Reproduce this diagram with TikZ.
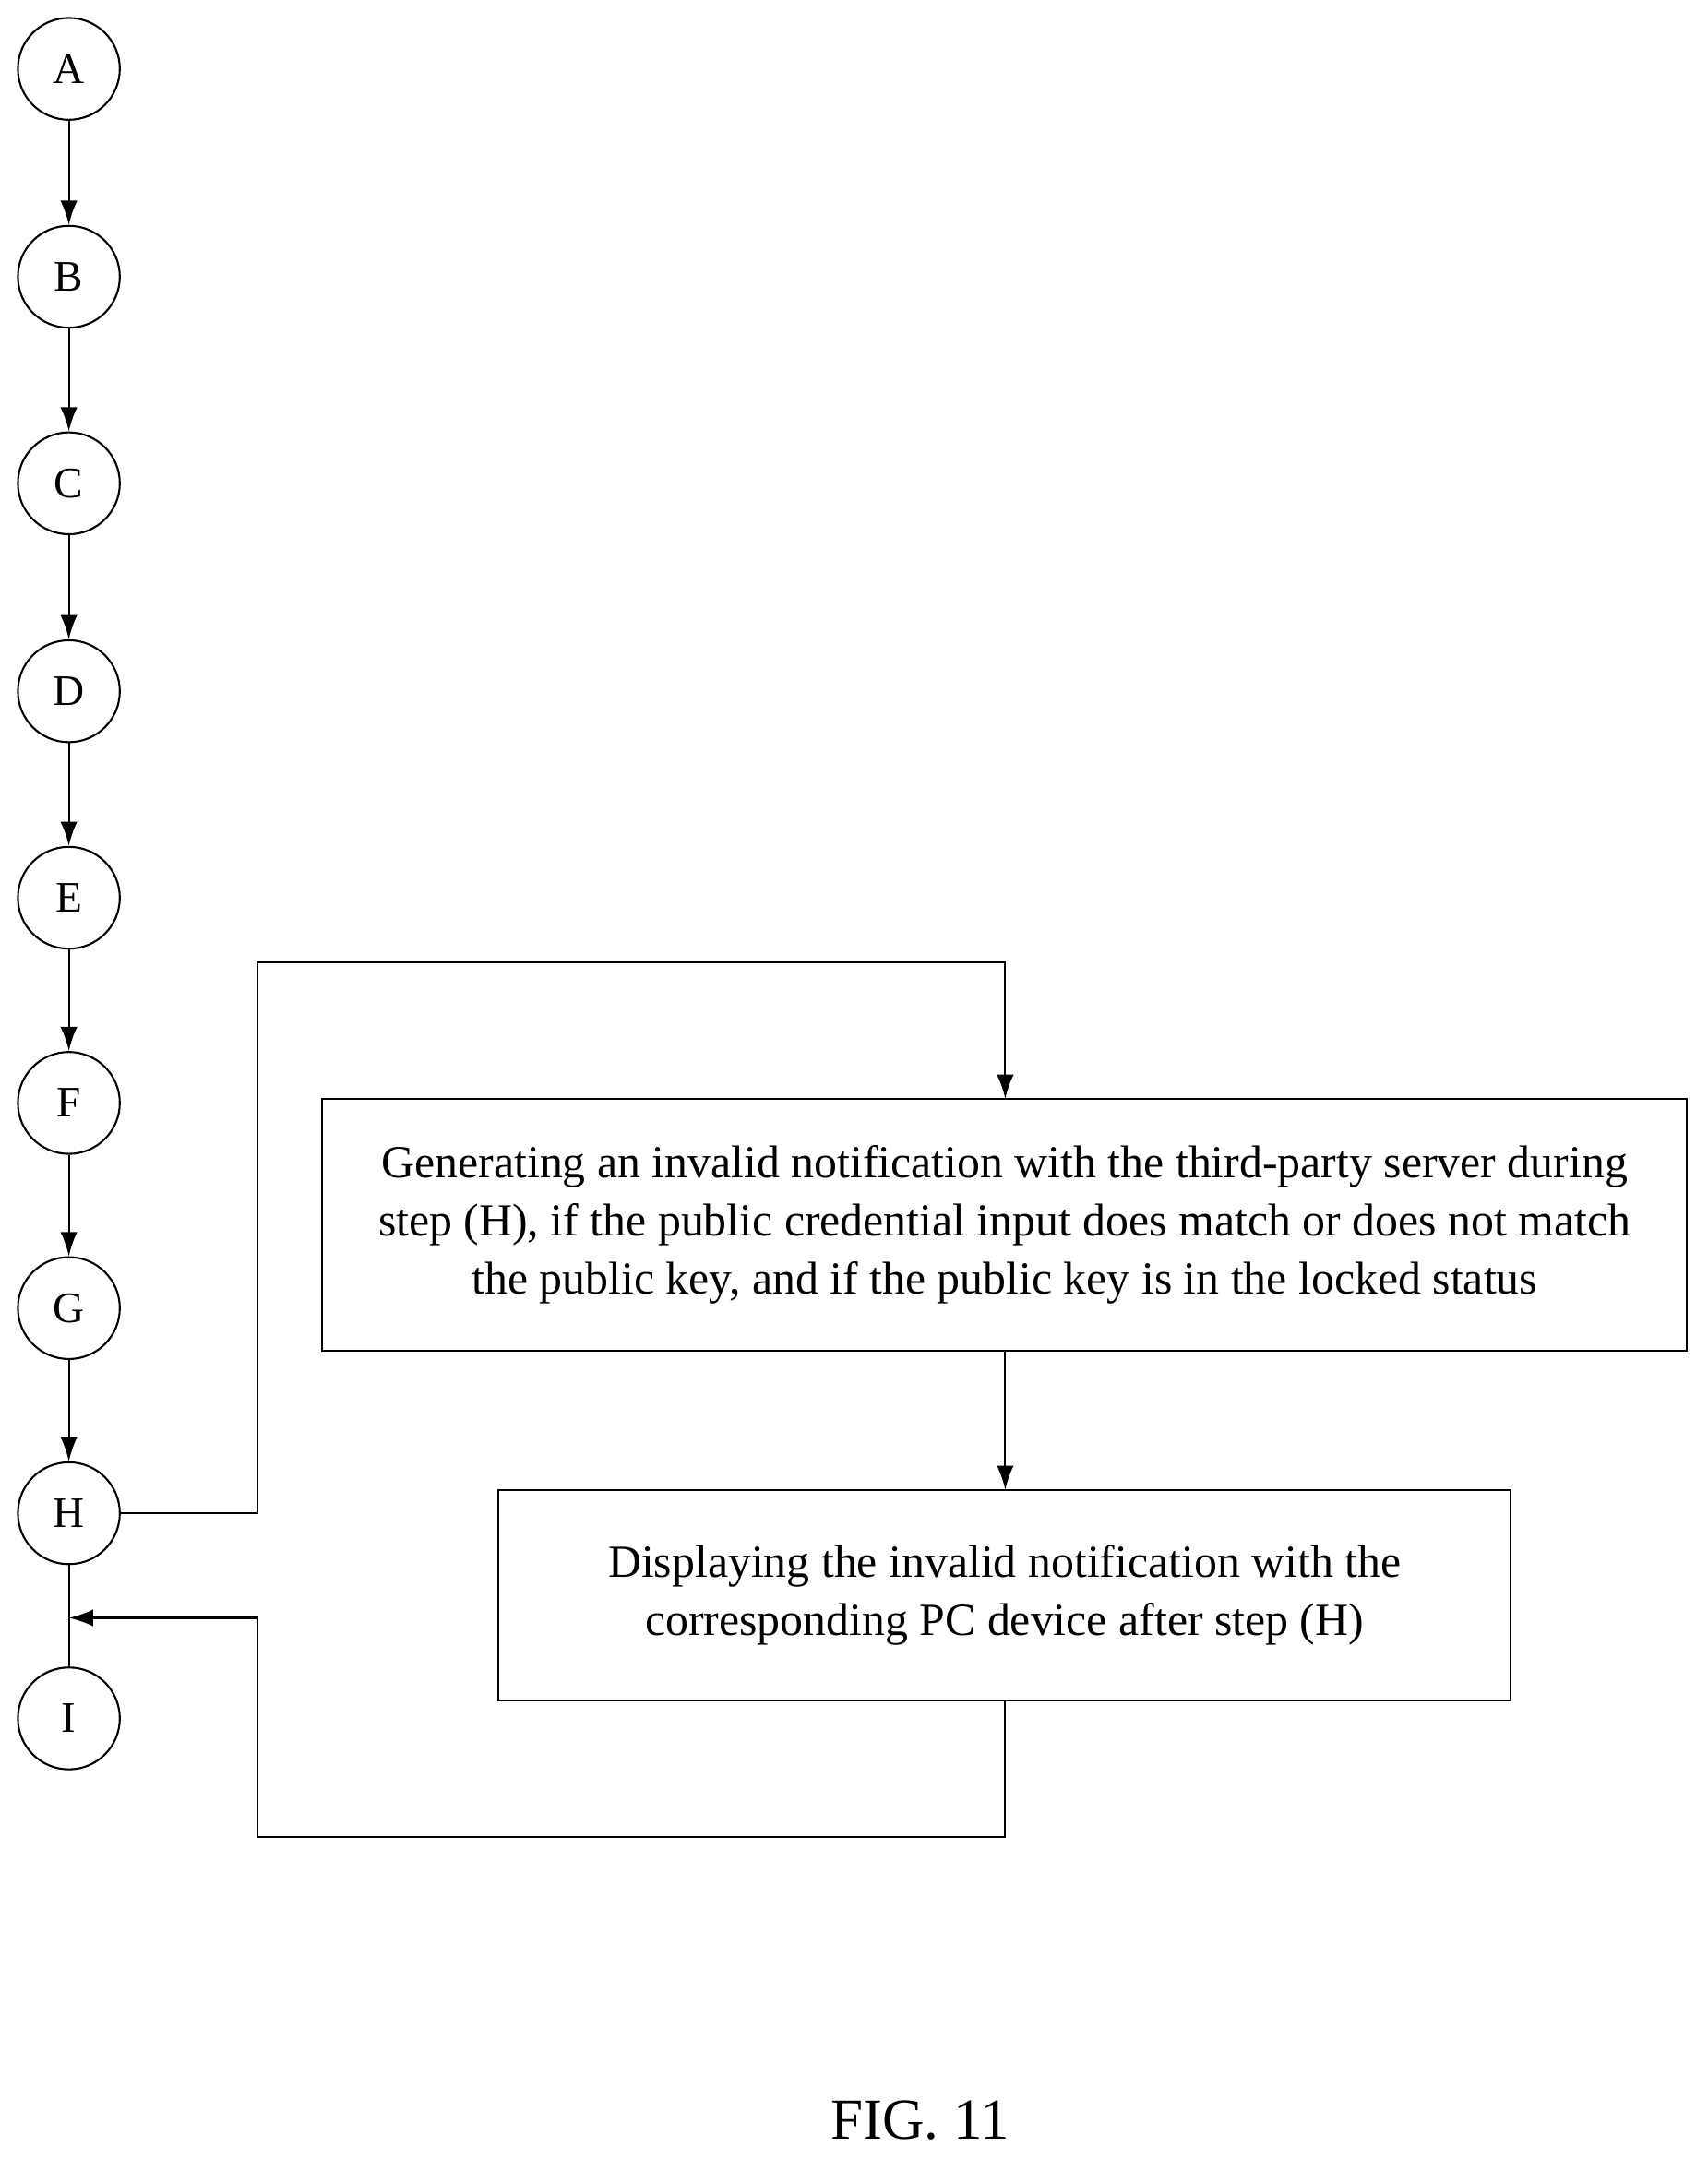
\documentclass[tikz,border=0pt]{standalone}
\usepackage{fontspec}
\setmainfont{Liberation Serif}
\usetikzlibrary{arrows.meta}
\begin{document}
\begin{tikzpicture}[x=0.02cm,y=-0.02cm,
  circ/.style={draw,circle,minimum size=1.48cm,inner sep=0pt,font=\fontsize{18}{20}\selectfont,line width=0.8pt},
  box/.style={draw,rectangle,inner sep=0pt,align=center,font=\fontsize{19}{24}\selectfont,line width=0.8pt},
  arr/.style={-{Latex[length=10pt,width=7pt]},line width=0.8pt},
  ln/.style={line width=0.8pt}]
\useasboundingbox (0,0) rectangle (1240,1568);
\foreach \n/\y in {A/50,B/201,C/351,D/502,E/652,F/801,G/950,H/1099,I/1248}
  \node[circ] (\n) at (50,\y) {\n};
\foreach \a/\b in {A/B,B/C,C/D,D/E,E/F,F/G,G/H}
  \draw[arr] (\a) -- (\b);
\draw[ln] (H) -- (I);
\coordinate (J) at (50,1175);
\node[box,minimum width=19.82cm,minimum height=3.66cm] (b1) at (729.5,889.5)
 {Generating an invalid notification with the third-party server during\\
  step (H), if the public credential input does match or does not match\\
  the public key, and if the public key is in the locked status};
\node[box,minimum width=14.7cm,minimum height=3.06cm] (b2) at (729.5,1158.5)
 {Displaying the invalid notification with the\\corresponding PC device after step (H)};
\draw[arr] (H.east) -- (187,1099) -- (187,699) -- (730,699) -- (730,798);
\draw[arr] (730,981) -- (730,1082);
\draw[arr] (730,1235) -- (730,1334) -- (187,1334) -- (187,1175) -- (J);
\node[font=\fontsize{24}{28}\selectfont] (fig) at (668,1540) {FIG. 11};
\end{tikzpicture}
\end{document}
